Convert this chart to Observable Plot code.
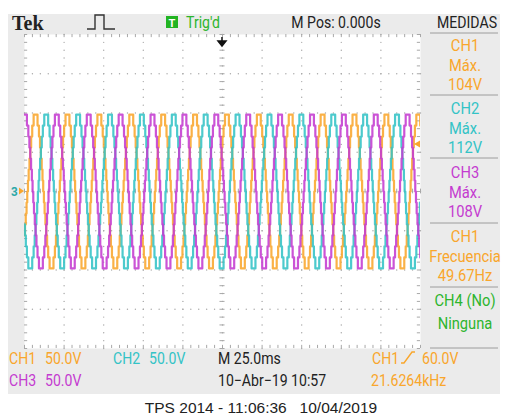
<!DOCTYPE html>
<html><head><meta charset="utf-8">
<script src="https://cdn.jsdelivr.net/npm/d3@7"></script>
<script src="https://cdn.jsdelivr.net/npm/@observablehq/plot@0.6"></script>
<style>body{margin:0;background:#fff} #chart svg{display:block}</style>
</head><body><div id="chart"></div>
<script>
// ---------- data ----------
const channels = ["CH1", "CH2", "CH3"];
const channelColors = ["#f9a62c", "#33c3c6", "#c43bd0"];
const phaseLagDeg = [0, 120, 240];          // CH2, CH3 lag CH1
const freqHz = 49.67;
const triggerPhaseDeg = 40;                 // CH1 rising through 60 V at t = 0
const stepLevelsV = [14, 28, 42, 56, 70, 84, 98];   // staircase levels (positive half)
const stepAnglesDeg = [4, 12, 21, 30, 40, 52, 68];  // angle where each level is reached
const timeDomainMs = [-125, 125];           // 25 ms/div, 10 div
const voltDomain = [-200, 200];             // 50 V/div, 8 div
const measureTitles = ["CH1", "CH2", "CH3", "CH1", "CH4 (No)"];
const measureNames = ["Máx.", "Máx.", "Máx.", "Frecuencia", "Ninguna"];
const measureValues = ["104V", "112V", "108V", "49.67Hz", ""];
const measureColors = ["#f9a62c", "#33c3c6", "#c43bd0", "#f9a62c", "#2db52d"];

// ---------- build traces ----------
const bp = [];
stepAnglesDeg.forEach((a, i) => {
  const prev = i ? stepLevelsV[i - 1] : 0;
  bp.push([a, stepLevelsV[i]], [180 - a, prev], [180 + a, -stepLevelsV[i]], [360 - a, -prev]);
});
bp.sort((p, q) => p[0] - q[0]);
const degPerMs = 0.36 * freqHz;
function levelAt(theta) {
  const th = ((theta % 360) + 360) % 360;
  let v = bp[bp.length - 1][1];
  for (const [a, l] of bp) if (a <= th) v = l;
  return v;
}
const traces = [];
channels.forEach((ch, ci) => {
  const phi = triggerPhaseDeg - phaseLagDeg[ci];
  const pts = [{t: timeDomainMs[0], v: levelAt(timeDomainMs[0] * degPerMs + phi), ch}];
  for (let n = -12; n <= 12; n++) {
    for (const [a, l] of bp) {
      const t = (a + 360 * n - phi) / degPerMs;
      if (t > timeDomainMs[0] && t < timeDomainMs[1]) pts.push({t, v: l, ch});
    }
  }
  pts.sort((p, q) => p.t - q.t);
  pts.push({t: timeDomainMs[1], v: pts[pts.length - 1].v, ch});
  traces.push(...pts);
});

// ---------- graticule ----------
const tMinor = d3.range(-125, 125.01, 5);
const vMinor = d3.range(-200, 200.01, 10);
const tMajor = d3.range(-100, 100.01, 25);
const vMajor = d3.range(-150, 150.01, 50);
const gridDots = [];
for (const t of tMajor) for (const v of vMinor) gridDots.push({t, v});
for (const v of vMajor) for (const t of tMinor) gridDots.push({t, v});

const gc = "#a8a8a8";
const plot = Plot.plot({
  width: 505, height: 415,
  marginLeft: 24, marginRight: 85, marginTop: 34, marginBottom: 67,
  x: {domain: timeDomainMs, axis: null},
  y: {domain: voltDomain, axis: null},
  color: {domain: channels, range: channelColors},
  style: {background: "transparent", overflow: "visible"},
  marks: [
    Plot.frame({fill: "white", stroke: null}),
    Plot.dot(gridDots, {x: "t", y: "v", r: 0.7, fill: gc, stroke: null}),
    Plot.ruleX(tMinor, {x: d => d, y1: -3, y2: 3, stroke: gc}),
    Plot.ruleY(vMinor, {y: d => d, x1: -1.6, x2: 1.6, stroke: gc}),
    Plot.ruleX(tMinor, {x: d => d, y1: 200, y2: 196, stroke: gc}),
    Plot.ruleX(tMinor, {x: d => d, y1: -200, y2: -196, stroke: gc}),
    Plot.ruleY(vMinor, {y: d => d, x1: -125, x2: -123, stroke: gc}),
    Plot.ruleY(vMinor, {y: d => d, x1: 125, x2: 123, stroke: gc}),
    Plot.line(traces, {x: "t", y: "v", z: "ch", stroke: "ch", curve: "step-after",
      strokeWidth: 2.2, strokeOpacity: 0.88, clip: true})
  ]
});
document.getElementById("chart").appendChild(plot);

// ---------- scope chrome ----------
const svg = d3.select(plot);
svg.insert("rect", ":first-child").attr("x", 8).attr("y", 14).attr("width", 492).attr("height", 380).attr("fill", "#ebebeb");

const FONT = "Roboto, 'Liberation Sans', sans-serif";
function txt(s, x, y, color, o = {}) {
  svg.append("text")
    .attr("transform", `translate(${x},${y}) scale(${o.sx ?? 0.88},1)`)
    .attr("text-anchor", o.anchor || "start")
    .attr("fill", color)
    .style("font-family", o.font || FONT)
    .style("font-size", (o.size || 16) + "px")
    .style("font-weight", o.weight || "normal")
    .style("white-space", "pre")
    .text(s);
}
const X = v => 24 + (v - timeDomainMs[0]) / 250 * 396;
const Y = v => 34 + (voltDomain[1] - v) / 400 * 314;

// header
txt("Tek", 12, 30, "#222", {font: "'Liberation Serif', 'DejaVu Serif', serif", size: 20, weight: "bold", sx: 1});
svg.append("path").attr("d", "M87,29H95V15H104V29H115").attr("fill", "none").attr("stroke", "#333").attr("stroke-width", 1.4);
svg.append("rect").attr("x", 166).attr("y", 16).attr("width", 12).attr("height", 12).attr("fill", "#22b422");
txt("T", 172, 26.5, "#fff", {anchor: "middle", size: 11, weight: "bold", sx: 1});
txt("Trig'd", 186, 27.5, "#2db52d");
txt("M Pos: 0.000s", 336, 28, "#222", {anchor: "middle"});
txt("MEDIDAS", 467, 28, "#222", {anchor: "middle"});

// trigger position arrow (t = 0)
const tx = X(0);
svg.append("path").attr("d", `M${tx},37V42M${tx - 4},41L${tx + 4},41L${tx},46Z`).attr("fill", "#111").attr("stroke", "#111").attr("stroke-width", 1.5);

// ground marker (left) and trigger level marker (right)
txt("3", 11, Y(0) + 5, "#2aa8a8", {size: 13, weight: "bold", sx: 0.9});
svg.append("path").attr("d", `M19,${Y(0) - 3.5}L24,${Y(0)}L19,${Y(0) + 3.5}Z`).attr("fill", "#f9a62c");
const ty = Y(60);
svg.append("path").attr("d", `M414,${ty}L420,${ty - 3.5}L420,${ty + 3.5}Z`).attr("fill", "#f9a62c");

// measurement panel
const seps = [33, 95, 158, 223, 287, 348];
seps.forEach(y => svg.append("line").attr("x1", 430).attr("x2", 498).attr("y1", y).attr("y2", y).attr("stroke", "#9c9c9c"));
const rowBase = [51, 114, 178, 242, 306];
measureTitles.forEach((t, i) => {
  const c = measureColors[i], b = rowBase[i];
  txt(t, 465, b, c, {anchor: "middle", sx: 0.92});
  txt(measureNames[i], 465, b + (i === 4 ? 23 : 19.5), c, {anchor: "middle", sx: 0.92});
  if (measureValues[i]) txt(measureValues[i], 465, b + 38.5, c, {anchor: "middle", sx: 0.92});
});

// bottom status rows
const OR = "#f9a62c", CY = "#33c3c6", MG = "#c43bd0";
txt("CH1", 9, 364, OR); txt("50.0V", 45, 364, OR);
txt("CH2", 113, 364, CY); txt("50.0V", 149, 364, CY);
txt("M 25.0ms", 218, 364, "#222");
txt("CH1", 372, 364, OR);
svg.append("path").attr("d", "M401,363H404L412,352H415").attr("fill", "none").attr("stroke", OR).attr("stroke-width", 1.4);
txt("60.0V", 422, 364, OR);
txt("CH3", 9, 386, MG); txt("50.0V", 45, 386, MG);
txt("10\u2212Abr\u221219 10:57", 218, 386, "#222");
txt("21.6264kHz", 371, 386, OR);

// caption
txt("TPS 2014 - 11:06:36   10/04/2019", 261, 413, "#222", {anchor: "middle", font: "'Liberation Sans', Arial, sans-serif", size: 15.5, sx: 1});
</script></body></html>
